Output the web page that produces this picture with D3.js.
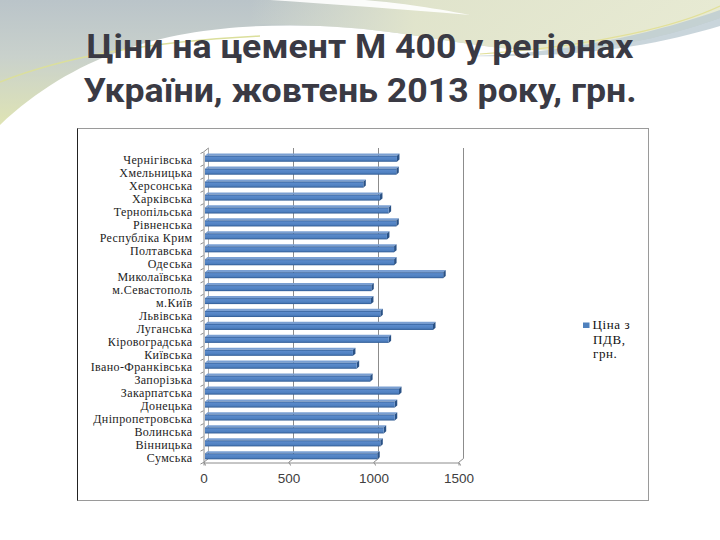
<!DOCTYPE html>
<html><head><meta charset="utf-8">
<script src="https://cdn.jsdelivr.net/npm/d3@7"></script>
<style>html,body{margin:0;padding:0;background:#fff;} svg{display:block;}</style>
</head><body>
<svg id="c" width="720" height="540"></svg>
<script>
const categories = ["Чернігівська","Хмельницька","Херсонська","Харківська","Тернопільська","Рівненська","Республіка Крим","Полтавська","Одеська","Миколаївська","м.Севастополь","м.Київ","Львівська","Луганська","Кіровоградська","Київська","Івано-Франківська","Запорізька","Закарпатська","Донецька","Дніпропетровська","Волинська","Вінницька","Сумська"];
const prices = [1138,1134,940,1038,1089,1134,1079,1121,1121,1410,987,985,1040,1350,1089,879,901,980,1150,1125,1125,1060,1040,1022];
const xTicks = [0,500,1000,1500];
const legendLines = ["Ціна з","ПДВ,","грн."];
const titleLines = ["Ціни на цемент М 400 у регіонах","України, жовтень 2013 року, грн."];

const svg = d3.select("#c");
const defs = svg.append("defs");

// background gradients
const g1 = defs.append("linearGradient").attr("id","bgV").attr("gradientUnits","userSpaceOnUse")
  .attr("x1",0).attr("y1",0).attr("x2",0).attr("y2",125);
[[0,"#bac4c9"],[0.45,"#c9d1cc"],[1,"#dfe4b4"]].forEach(s=>g1.append("stop").attr("offset",s[0]).attr("stop-color",s[1]));
const g2 = defs.append("linearGradient").attr("id","bgH").attr("gradientUnits","userSpaceOnUse")
  .attr("x1",250).attr("y1",0).attr("x2",720).attr("y2",0);
[[0,"#e4e7cf",0],[0.35,"#e4e7cc",0.9],[1,"#eceed4",0.9]].forEach(s=>g2.append("stop").attr("offset",s[0]).attr("stop-color",s[1]).attr("stop-opacity",s[2]));
const gBar = defs.append("linearGradient").attr("id","barG").attr("x1",0).attr("y1",0).attr("x2",0).attr("y2",1);
[[0,"#345f98"],[0.25,"#5a8acb"],[0.7,"#4f80c0"],[1,"#2f5a92"]].forEach(s=>gBar.append("stop").attr("offset",s[0]).attr("stop-color",s[1]));

const bg = svg.append("g");
bg.append("path").attr("d","M0,0 L720,0 L720,18 C680,32 630,47 560,50 C480,53 420,30 320,26 C200,22 90,40 0,125 Z").attr("fill","url(#bgV)");
bg.append("path").attr("d","M250,0 L720,0 L720,18 C680,32 630,47 560,50 C480,53 420,30 320,26 C290,25 270,24 250,24 Z").attr("fill","url(#bgH)");
bg.append("path").attr("d","M470,56 C560,54 650,35 720,10 L720,26 C660,44 590,58 470,56 Z").attr("fill","#bccad2").attr("opacity",0.8);
bg.append("path").attr("d","M270,0 C330,4 400,9 470,15 C430,7 390,2 365,0 Z").attr("fill","#fff").attr("opacity",0.9);
bg.append("path").attr("d","M0,82 C60,58 140,42 260,36").attr("fill","none").attr("stroke","#dbdf9c").attr("stroke-width",1.5);
bg.append("path").attr("d","M480,54 C600,46 680,25 720,6").attr("fill","none").attr("stroke","#e2e09a").attr("stroke-width",1.2);

// title
const title = svg.append("g").attr("font-family","'Liberation Sans Narrow','Roboto','Liberation Sans',sans-serif")
  .attr("font-weight","bold").attr("font-size",34).attr("fill","#3a3a44").attr("text-anchor","middle");
title.append("text").attr("x",360).attr("y",58).attr("textLength",547).attr("lengthAdjust","spacingAndGlyphs").text(titleLines[0]);
title.append("text").attr("x",360).attr("y",102).attr("textLength",553).attr("lengthAdjust","spacingAndGlyphs").text(titleLines[1]);

// chart frame
svg.append("rect").attr("x",77.5).attr("y",128.5).attr("width",571).attr("height",372).attr("fill","#fff").attr("stroke","#9a9a9a");
svg.append("line").attr("x1",77.5).attr("x2",77.5).attr("y1",128.5).attr("y2",500.5).attr("stroke","#222");

// scales
const x = d3.scaleLinear().domain([0,1500]).range([203.5,458.5]);
const y = d3.scaleBand().domain(categories).range([152,462.5]);
const dx = 4.5, dy = -4;

const plot = svg.append("g");
// back wall gridlines
plot.selectAll("line.grid").data(xTicks).join("line").attr("class","grid")
  .attr("x1",d=>x(d)+dx+0.5).attr("x2",d=>x(d)+dx+0.5).attr("y1",y.range()[0]+dy).attr("y2",y.range()[1]+dy)
  .attr("stroke",d=>d===0?"#b0b0b0":"#8c8c8c").attr("stroke-width",1);
// floor connectors
plot.selectAll("line.fl").data(xTicks).join("line").attr("class","fl")
  .attr("x1",d=>x(d)).attr("x2",d=>x(d)+dx+0.5).attr("y1",y.range()[1]).attr("y2",y.range()[1]+dy)
  .attr("stroke","#8c8c8c");
// bottom axis
const axB = plot.append("g").attr("transform",`translate(0,${y.range()[1]})`)
  .call(d3.axisBottom(x).tickValues(xTicks).tickSize(3).tickPadding(8).tickFormat(d3.format("d")));
axB.select(".domain").attr("stroke","#8c8c8c");
axB.selectAll(".tick line").attr("stroke","#8c8c8c").attr("transform","skewX(30)");
axB.selectAll("text").attr("font-family","'Liberation Sans',Arial,sans-serif").attr("font-size",13.5).attr("fill","#404040");
// left axis
const axL = plot.append("g").attr("transform",`translate(${x(0)},0)`)
  .call(d3.axisLeft(y).tickSize(0).tickPadding(11));
axL.select(".domain").attr("stroke","#8c8c8c");
axL.selectAll(".tick text").attr("font-family","'Liberation Serif','Times New Roman',serif").attr("font-size",12)
  .attr("letter-spacing","0.4px").attr("fill","#222").attr("dy","0.5em");
// category boundary ticks
const bounds = categories.map(c=>y(c)).concat([y.range()[1]]);
plot.selectAll("line.bt").data(bounds).join("line").attr("class","bt")
  .attr("x1",x(0)-3).attr("x2",x(0)).attr("y1",d=>d+1.5).attr("y2",d=>d).attr("stroke","#8c8c8c");
plot.append("line").attr("x1",x(0)).attr("y1",y.range()[0]).attr("x2",x(0)+dx+0.5).attr("y2",y.range()[0]+dy).attr("stroke","#8c8c8c");

// bars (3D look)
const bars = plot.selectAll("g.bar").data(categories.map((c,i)=>({c,v:prices[i]}))).join("g").attr("class","bar");
const bh = 6, d3x = 2.5, d3y = -2.2;
bars.each(function(d){
  const g = d3.select(this);
  const cy = y(d.c) + y.bandwidth()/2 - 0.5;
  const x0 = x(0)+1.5, xe = x(d.v);
  const top = cy - bh/2 + 0.8;
  g.append("path").attr("d",`M${x0},${top} L${x0+d3x},${top+d3y} L${xe+d3x},${top+d3y} L${xe},${top} Z`).attr("fill","#7a9fd2");
  g.append("path").attr("d",`M${xe},${top} L${xe+d3x},${top+d3y} L${xe+d3x},${top+d3y+bh} L${xe},${top+bh} Z`).attr("fill","#2a5286");
  g.append("rect").attr("x",x0).attr("y",top).attr("width",xe-x0).attr("height",bh).attr("fill","url(#barG)");
});

// legend
const lg = svg.append("g");
lg.append("rect").attr("x",583).attr("y",322.5).attr("width",6.5).attr("height",5.5).attr("fill","#4f81bd");
lg.selectAll("text").data(legendLines).join("text").attr("x",(d,i)=>i===0?592.5:593).attr("y",(d,i)=>329+i*14.5)
  .attr("font-family","'Liberation Serif','Times New Roman',serif").attr("font-size",13).attr("letter-spacing","0.6px").attr("fill","#111").text(d=>d);
</script>
</body></html>
